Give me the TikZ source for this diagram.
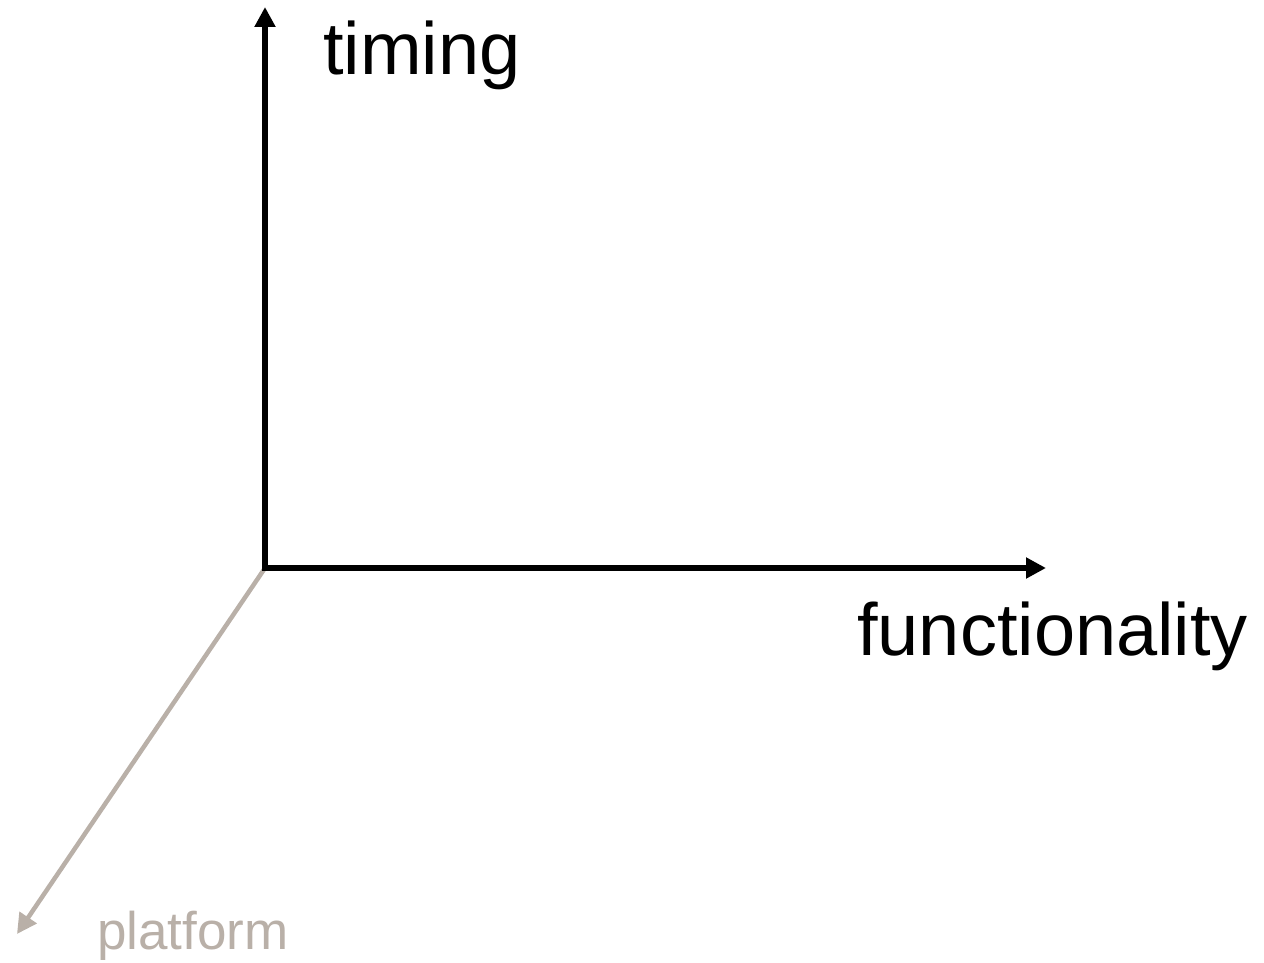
\documentclass[tikz,border=0pt]{standalone}
\usepackage{fontspec}
\setmainfont{Liberation Sans}
\usetikzlibrary{arrows.meta}
\definecolor{axgrey}{RGB}{185,176,168}
\tikzset{
  axis/.style={line width=5.5pt, -{Triangle[length=20pt,width=20pt]}},
  lbl/.style={anchor=base west, inner sep=0pt, font=\fontsize{74}{80}\selectfont},
}
\begin{document}
\begin{tikzpicture}[x=1pt,y=-1pt]
\useasboundingbox (0,0) rectangle (1264,963);
\coordinate (o) at (265,568);
\coordinate (ty) at (265,7);
\coordinate (tx) at (1046,568);
\coordinate (tz) at (17,934);
\draw[axis, draw=axgrey, fill=axgrey, line width=4.5pt] (o) -- (tz);
\draw[axis] (o) -- (tx);
\draw[axis] (o) -- (ty);
\fill (262.25,565.25) rectangle (267.75,570.75);
\node[lbl] (timing) at (323,75) {timing};
\node[lbl] (func) at (857,655) {functionality};
\node[lbl, font=\fontsize{53}{56}\selectfont, text=axgrey] (plat) at (97,949) {platform};
\end{tikzpicture}
\end{document}
